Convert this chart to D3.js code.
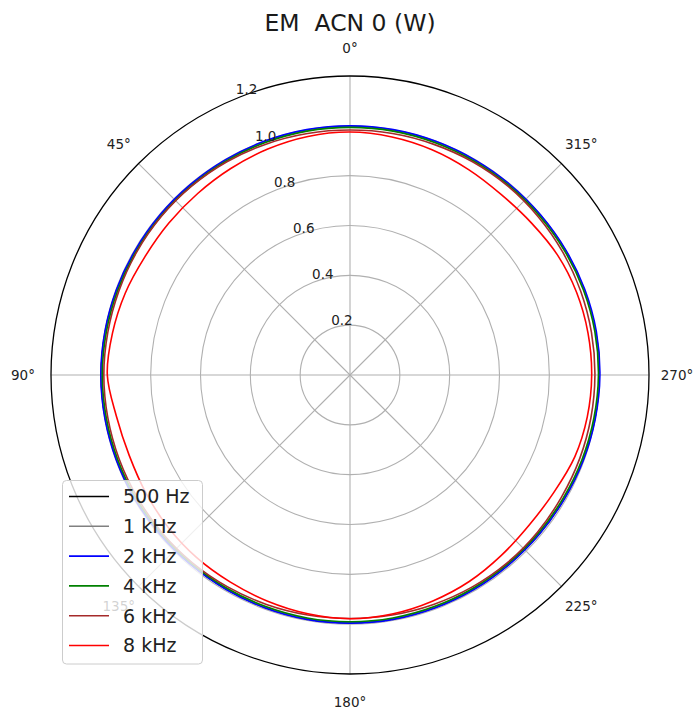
<!DOCTYPE html>
<html>
<head>
<meta charset="utf-8">
<script src="https://cdn.jsdelivr.net/npm/d3@7"></script>
<style>
  html, body { margin: 0; padding: 0; background: #fff; }
  svg { display: block; font-family: "DejaVu Sans", sans-serif; }
</style>
</head>
<body>
<svg id="chart" width="697" height="715"></svg>
<script>
// ---- data ----
const title = "EM  ACN 0 (W)";
const angles = [0,10,20,30,40,50,60,70,80,90,100,110,120,130,140,150,160,170,180,190,200,210,220,230,240,250,260,270,280,290,300,310,320,330,340,350];
const seriesNames = ["500 Hz", "1 kHz", "2 kHz", "4 kHz", "6 kHz", "8 kHz"];
const seriesColors = ["#000000", "#808080", "#0000ff", "#008000", "#a52a2a", "#ff0000"];
const hz500 = [0.997,0.997,0.996,0.995,0.995,0.995,0.995,0.996,0.997,0.998,0.997,0.996,0.995,0.993,0.992,0.992,0.993,0.994,0.994,0.994,0.993,0.992,0.991,0.991,0.992,0.995,0.998,1.000,1.001,1.000,0.998,0.996,0.995,0.995,0.996,0.997];
const khz1 = [0.997,0.997,0.996,0.995,0.995,0.995,0.995,0.996,0.997,0.998,0.997,0.996,0.995,0.993,0.992,0.992,0.993,0.994,0.994,0.994,0.993,0.992,0.991,0.991,0.992,0.995,0.998,1.000,1.001,1.000,0.998,0.996,0.995,0.995,0.996,0.997];
const khz2 = [1.000,1.000,0.999,0.998,0.997,0.997,0.997,0.998,0.999,1.000,0.999,0.998,0.997,0.995,0.994,0.994,0.995,0.996,0.996,0.996,0.995,0.994,0.993,0.993,0.994,0.997,1.000,1.003,1.004,1.003,1.001,0.999,0.998,0.998,0.999,1.000];
const khz4 = [0.994,0.994,0.993,0.992,0.991,0.991,0.991,0.992,0.993,0.994,0.993,0.992,0.991,0.989,0.988,0.988,0.989,0.990,0.990,0.990,0.989,0.988,0.987,0.987,0.988,0.991,0.994,0.997,0.998,0.997,0.995,0.993,0.992,0.992,0.993,0.994];
const khz6 = [0.983,0.984,0.986,0.988,0.989,0.989,0.988,0.987,0.987,0.988,0.987,0.986,0.985,0.985,0.984,0.982,0.980,0.978,0.977,0.978,0.980,0.982,0.983,0.982,0.980,0.981,0.982,0.983,0.984,0.985,0.986,0.987,0.988,0.987,0.985,0.984];
const khz8 = [0.975,0.972,0.965,0.957,0.951,0.949,0.950,0.960,0.968,0.974,0.952,0.943,0.946,0.952,0.957,0.960,0.966,0.973,0.978,0.974,0.966,0.957,0.945,0.938,0.944,0.960,0.967,0.970,0.970,0.968,0.962,0.950,0.945,0.952,0.962,0.970];
const radialTicks = [0.2, 0.4, 0.6, 0.8, 1.0, 1.2];
const radialTickLabels = ["0.2", "0.4", "0.6", "0.8", "1.0", "1.2"];
const angleTicks = [0, 45, 90, 135, 180, 225, 270, 315];
const angleTickLabels = ["0°", "45°", "90°", "135°", "180°", "225°", "270°", "315°"];

const seriesValues = [hz500, khz1, khz2, khz4, khz6, khz8];

// ---- layout ----
const svg = d3.select("#chart");
const cx = 350, cy = 375, R = 299;
const rScale = d3.scaleLinear().domain([0, 1.2]).range([0, R]);
const toRad = d => -d * Math.PI / 180; // counter-clockwise from top
const pt = (deg, rr) => [cx - rr * Math.sin(deg * Math.PI / 180), cy - rr * Math.cos(deg * Math.PI / 180)];

svg.append("text")
  .attr("x", cx).attr("y", 30.5)
  .attr("text-anchor", "middle")
  .attr("font-size", 23.5)
  .attr("fill", "#1a1a1a")
  .style("white-space", "pre")
  .text(title);

const g = svg.append("g").attr("transform", `translate(${cx},${cy})`);

// grid circles
g.selectAll("circle.grid")
  .data(radialTicks.slice(0, -1))
  .enter().append("circle")
  .attr("r", d => rScale(d))
  .attr("fill", "none")
  .attr("stroke", "#b0b0b0")
  .attr("stroke-width", 1.1);

// angular grid lines
g.selectAll("line.spoke")
  .data(angleTicks)
  .enter().append("line")
  .attr("x1", 0).attr("y1", 0)
  .attr("x2", d => -R * Math.sin(d * Math.PI / 180))
  .attr("y2", d => -R * Math.cos(d * Math.PI / 180))
  .attr("stroke", "#b0b0b0")
  .attr("stroke-width", 1.1);

// outer spine
g.append("circle")
  .attr("r", rScale(1.2))
  .attr("fill", "none")
  .attr("stroke", "#000")
  .attr("stroke-width", 1.3);

// data lines
const line = d3.lineRadial()
  .angle(d => toRad(d[0]))
  .radius(d => rScale(d[1]))
  .curve(d3.curveCatmullRomClosed.alpha(0.5));

seriesValues.forEach((vals, i) => {
  const pts = angles.map((a, j) => [a, vals[j]]);
  g.append("path")
    .attr("d", line(pts))
    .attr("fill", "none")
    .attr("stroke", seriesColors[i])
    .attr("stroke-width", 1.6)
    .attr("stroke-linejoin", "round");
});

// radial tick labels (along 22.5°)
radialTicks.forEach((t, i) => {
  const [x, y] = pt(22.5, rScale(t));
  svg.append("text")
    .attr("x", x + 11).attr("y", y - 9)
    .attr("dy", "0.35em")
    .attr("text-anchor", "middle")
    .attr("font-size", 13.5)
    .attr("fill", "#222")
    .text(radialTickLabels[i]);
});

// angle tick labels
angleTicks.forEach((a, i) => {
  const [x, y] = pt(a, 327);
  svg.append("text")
    .attr("x", x).attr("y", y)
    .attr("dy", "0.35em")
    .attr("text-anchor", "middle")
    .attr("font-size", 13.5)
    .attr("fill", "#222")
    .text(angleTickLabels[i]);
});

// legend
const lg = svg.append("g");
lg.append("rect")
  .attr("x", 62.5).attr("y", 480.5)
  .attr("width", 140).attr("height", 183.5)
  .attr("rx", 4).attr("ry", 4)
  .attr("fill", "#fff").attr("fill-opacity", 0.8)
  .attr("stroke", "#cccccc").attr("stroke-width", 1);
seriesNames.forEach((name, i) => {
  const y = 496.5 + i * 29.8;
  lg.append("line")
    .attr("x1", 69).attr("x2", 109)
    .attr("y1", y).attr("y2", y)
    .attr("stroke", seriesColors[i])
    .attr("stroke-width", 1.6);
  lg.append("text")
    .attr("x", 123).attr("y", y)
    .attr("dy", "0.36em")
    .attr("font-size", 19)
    .attr("fill", "#222")
    .text(name);
});
</script>
</body>
</html>
